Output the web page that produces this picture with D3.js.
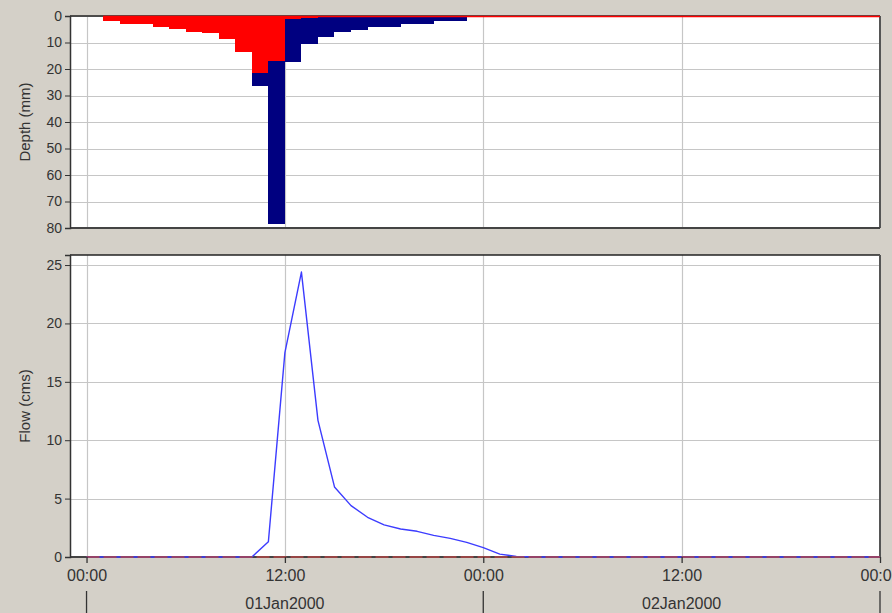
<!DOCTYPE html>
<html>
<head>
<meta charset="utf-8">
<script src="https://cdn.jsdelivr.net/npm/d3@7"></script>
<style>
  body { margin: 0; background: #d4d0c8; }
  svg { display: block; font-family: "Liberation Sans", Arial, sans-serif; }
</style>
</head>
<body>
<svg id="chart" width="892" height="613"></svg>
<script>
// hyetograph: hour at which each bar starts (01Jan2000)
const barHours = [1, 2, 3, 4, 5, 6, 7, 8, 9, 10, 11, 12, 13, 14, 15, 16, 17, 18, 19, 20, 21, 22];
const lossDepth = [1.9, 3.1, 3.1, 4.0, 5.0, 6.2, 6.5, 8.8, 13.5, 21.4, 17.0, 1.3, 0.7, 0.5, 0.4, 0.4, 0.3, 0.3, 0.3, 0.3, 0.2, 0.2];
const excessDepth = [0, 0, 0, 0, 0, 0, 0, 0, 0, 5.0, 61.5, 15.9, 10.0, 7.3, 5.8, 4.7, 3.8, 3.8, 2.9, 2.9, 1.8, 1.8];

// hydrograph, hourly from 01Jan2000 00:00
const flowHours = [0, 1, 2, 3, 4, 5, 6, 7, 8, 9, 10, 11, 12, 13, 14, 15, 16, 17, 18, 19, 20, 21, 22, 23, 24,
                   25, 26, 27, 28, 29, 30, 31, 32, 33, 34, 35, 36, 37, 38, 39, 40, 41, 42, 43, 44, 45, 46, 47, 48];
const flowValues = [0, 0, 0, 0, 0, 0, 0, 0, 0, 0, 0, 1.3, 17.5, 24.4, 11.7, 6.0, 4.4, 3.4, 2.75, 2.4, 2.2, 1.85, 1.6, 1.25, 0.8,
                    0.25, 0.05, 0, 0, 0, 0, 0, 0, 0, 0, 0, 0, 0, 0, 0, 0, 0, 0, 0, 0, 0, 0, 0, 0];

const depthTicks = [0, 10, 20, 30, 40, 50, 60, 70, 80];
const flowTicks = [0, 5, 10, 15, 20, 25];
const dayLabels = ["01Jan2000", "02Jan2000"];

const t0 = Date.UTC(2000, 0, 1, 0);
const hr = h => new Date(t0 + h * 3600000);

const left = 70, right = 880;
const top1 = 16, bot1 = 228;
const top2 = 255, bot2 = 557;

const svg = d3.select("#chart");
svg.append("rect").attr("width", 892).attr("height", 613).attr("fill", "#d4d0c8");

const x = d3.scaleUtc().domain([hr(-1), hr(48)]).range([left, right]);
const yDepth = d3.scaleLinear().domain([0, 80]).range([top1, bot1]);
const yFlow = d3.scaleLinear().domain([0, 25.86]).range([bot2, top2]);

const gridTimes = [hr(0), hr(12), hr(24), hr(36)];
const gridColor = "#c6c6c6";
const axisColor = "#333";

function panel(y0, y1, yScale, ticks) {
  svg.append("rect").attr("x", left).attr("y", y0).attr("width", right - left).attr("height", y1 - y0).attr("fill", "#fff");
  // gridlines
  svg.append("g").selectAll("line").data(ticks).join("line")
    .attr("x1", left).attr("x2", right)
    .attr("y1", d => Math.round(yScale(d)) + 0.5).attr("y2", d => Math.round(yScale(d)) + 0.5)
    .attr("stroke", gridColor).attr("stroke-width", 1.2);
  svg.append("g").selectAll("line").data(gridTimes).join("line")
    .attr("x1", d => Math.round(x(d)) + 0.5).attr("x2", d => Math.round(x(d)) + 0.5)
    .attr("y1", y0).attr("y2", y1)
    .attr("stroke", gridColor).attr("stroke-width", 1.2);
}

function frame(y0, y1, yScale, ticks) {
  svg.append("line").attr("x1", left).attr("x2", right).attr("y1", y0).attr("y2", y0).attr("stroke", "#222").attr("stroke-width", 1.5);
  svg.append("line").attr("x1", right).attr("x2", right).attr("y1", y0).attr("y2", y1).attr("stroke", "#555").attr("stroke-width", 2);
  svg.append("line").attr("x1", left).attr("x2", right).attr("y1", y1).attr("y2", y1).attr("stroke", "#444").attr("stroke-width", 2);
  const ax = svg.append("g").attr("transform", `translate(${left},0)`)
    .call(d3.axisLeft(yScale).tickValues(ticks).tickSize(5).tickPadding(3));
  ax.select(".domain").attr("stroke", axisColor).attr("stroke-width", 1.5);
  ax.selectAll(".tick line").attr("stroke", axisColor);
  ax.selectAll("text").attr("font-size", 14).attr("fill", "#333");
}

// ---- top panel: precipitation depth
panel(top1, bot1, yDepth, depthTicks);

const barX = i => x(hr(barHours[i]));
const barW = i => x(hr(barHours[i] + 1)) - x(hr(barHours[i]));

svg.append("g").selectAll("rect").data(barHours).join("rect")
  .attr("x", (d, i) => barX(i)).attr("width", (d, i) => barW(i))
  .attr("y", (d, i) => yDepth(lossDepth[i]))
  .attr("height", (d, i) => yDepth(lossDepth[i] + excessDepth[i]) - yDepth(lossDepth[i]))
  .attr("fill", "#000080").attr("shape-rendering", "crispEdges");

svg.append("g").selectAll("rect").data(barHours).join("rect")
  .attr("x", (d, i) => barX(i)).attr("width", (d, i) => barW(i))
  .attr("y", yDepth(0))
  .attr("height", (d, i) => yDepth(lossDepth[i]) - yDepth(0))
  .attr("fill", "#ff0000").attr("shape-rendering", "crispEdges");

frame(top1, bot1, yDepth, depthTicks);
svg.append("line").attr("x1", x(hr(1))).attr("x2", right).attr("y1", top1 + 0.5).attr("y2", top1 + 0.5)
  .attr("stroke", "#ff0000").attr("stroke-width", 1.5);

svg.append("text").attr("transform", `translate(30,${(top1 + bot1) / 2}) rotate(-90)`)
  .attr("text-anchor", "middle").attr("font-size", 15).attr("fill", "#333").text("Depth (mm)");

// ---- bottom panel: flow
panel(top2, bot2, yFlow, flowTicks);
frame(top2, bot2, yFlow, flowTicks);

const line = d3.line().x((d, i) => x(hr(flowHours[i]))).y(d => yFlow(d));
svg.append("path").datum(flowValues).attr("d", line)
  .attr("fill", "none").attr("stroke", "#3c3cff").attr("stroke-width", 1.4).attr("stroke-linejoin", "round");
svg.append("line").attr("x1", x(hr(0))).attr("x2", right).attr("y1", bot2).attr("y2", bot2)
  .attr("stroke", "#b24646").attr("stroke-width", 1.5).attr("stroke-dasharray", "13,4");

svg.append("text").attr("transform", `translate(30,${(top2 + bot2) / 2}) rotate(-90)`)
  .attr("text-anchor", "middle").attr("font-size", 15).attr("fill", "#333").text("Flow (cms)");

// time axis
const xa = svg.append("g").attr("transform", `translate(0,${bot2})`)
  .call(d3.axisBottom(x).tickValues([hr(0), hr(12), hr(24), hr(36), hr(48)])
    .tickFormat(d3.utcFormat("%H:%M")).tickSize(6).tickPadding(7));
xa.select(".domain").remove();
xa.selectAll(".tick line").attr("stroke", axisColor).attr("stroke-width", 1.3);
xa.selectAll("text").attr("font-size", 16).attr("fill", "#333");

svg.append("g").selectAll("line").data([hr(0), hr(24), hr(48)]).join("line")
  .attr("x1", d => x(d)).attr("x2", d => x(d)).attr("y1", 591).attr("y2", 613)
  .attr("stroke", axisColor).attr("stroke-width", 1.3);
svg.append("g").selectAll("text").data(dayLabels).join("text")
  .attr("x", (d, i) => x(hr(12 + 24 * i))).attr("y", 609)
  .attr("text-anchor", "middle").attr("font-size", 16).attr("fill", "#333").text(d => d);
</script>
</body>
</html>
